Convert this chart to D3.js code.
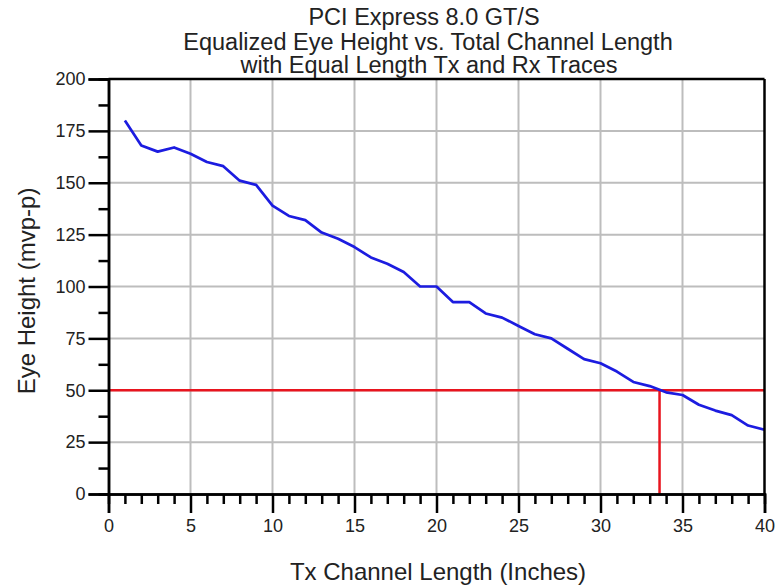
<!DOCTYPE html>
<html><head><meta charset="utf-8">
<script src="https://cdn.jsdelivr.net/npm/d3@7"></script>
<style>body{margin:0;background:#fff;} svg{display:block;}</style>
</head><body>
<svg id="chart" width="776" height="586"></svg>
<script>
const titleLines = ["PCI Express 8.0 GT/S", "Equalized Eye Height vs. Total Channel Length", "with Equal Length Tx and Rx Traces"];
const xLabel = "Tx Channel Length (Inches)";
const yLabel = "Eye Height (mvp-p)";
const lengths = [1,2,3,4,5,6,7,8,9,10,11,12,13,14,15,16,17,18,19,20,21,22,23,24,25,26,27,28,29,30,31,32,33,34,35,36,37,38,39,40];
const eyeHeight = [180,168,165,167,164,160,158,151,149,139,134,132,126,123,119,114,111,107,100,100,92.5,92.5,87,85,81,77,75,70,65,63,59,54,52,49,47.7,43,40.2,38,33,31];
const xTicksMajor = [0,5,10,15,20,25,30,35,40];
const yTicksMajor = [0,25,50,75,100,125,150,175,200];
const thresholdY = 50;
const crossingX = 33.6;

const svg = d3.select("#chart");
const font = "'Liberation Sans', Arial, sans-serif";
const x = d3.scaleLinear().domain([0,40]).range([108.5,764.5]);
const y = d3.scaleLinear().domain([0,200]).range([494,79]);

// grid
const g = svg.append("g");
g.selectAll("line.gx").data(xTicksMajor.filter(d=>d>0&&d<40)).enter().append("line")
  .attr("x1",d=>x(d)).attr("x2",d=>x(d)).attr("y1",y(0)).attr("y2",y(200))
  .attr("stroke","#bdbdbd").attr("stroke-width",2);
g.selectAll("line.gy").data(yTicksMajor.filter(d=>d>0&&d<200)).enter().append("line")
  .attr("x1",x(0)).attr("x2",x(40)).attr("y1",d=>y(d)).attr("y2",d=>y(d))
  .attr("stroke","#bdbdbd").attr("stroke-width",2);

// red threshold lines
svg.append("line").attr("x1",x(0)).attr("x2",x(40)).attr("y1",y(thresholdY)).attr("y2",y(thresholdY))
  .attr("stroke","#e8141e").attr("stroke-width",2.5);
svg.append("line").attr("x1",x(crossingX)).attr("x2",x(crossingX)).attr("y1",y(thresholdY)).attr("y2",y(0))
  .attr("stroke","#e8141e").attr("stroke-width",2.5);

// data line
const line = d3.line().x((d,i)=>x(lengths[i])).y(d=>y(d));
svg.append("path").datum(eyeHeight).attr("d",line).attr("fill","none")
  .attr("stroke","#1c1ce0").attr("stroke-width",2.7).attr("stroke-linejoin","round");

// axes
const xMinor = d3.range(0,41,1).filter(d=>d%5!==0);
const yMinor = d3.range(12.5,200,25);
const xAxis = svg.append("g").attr("transform",`translate(0,${y(0)})`)
  .call(d3.axisBottom(x).tickValues(xTicksMajor).tickSize(19).tickPadding(6).tickFormat(d3.format("d")));
const xAxisMinor = svg.append("g").attr("transform",`translate(0,${y(0)})`)
  .call(d3.axisBottom(x).tickValues(xMinor).tickSize(10).tickFormat(""));
const yAxis = svg.append("g").attr("transform",`translate(${x(0)},0)`)
  .call(d3.axisLeft(y).tickValues(yTicksMajor).tickSize(20).tickPadding(3).tickFormat(d3.format("d")));
const yAxisMinor = svg.append("g").attr("transform",`translate(${x(0)},0)`)
  .call(d3.axisLeft(y).tickValues(yMinor).tickSize(10).tickFormat(""));
[xAxis,xAxisMinor,yAxis,yAxisMinor].forEach(a=>{
  a.select(".domain").attr("stroke","#000").attr("stroke-width",2.5);
  a.selectAll(".tick line").attr("stroke","#000").attr("stroke-width",2.5);
  a.selectAll(".tick text").attr("font-family",font).attr("font-size",18).attr("fill","#222");
});
// top and right border
svg.append("line").attr("x1",x(0)).attr("x2",x(40)).attr("y1",y(200)).attr("y2",y(200)).attr("stroke","#000").attr("stroke-width",2.5);
svg.append("line").attr("x1",x(40)).attr("x2",x(40)).attr("y1",y(200)).attr("y2",y(0)).attr("stroke","#000").attr("stroke-width",2.5);

// titles
const titleY = [25, 49.5, 73];
const titleX = [424, 428, 429];
svg.append("g").selectAll("text").data(titleLines).enter().append("text")
  .attr("x",(d,i)=>titleX[i]).attr("y",(d,i)=>titleY[i]).attr("text-anchor","middle")
  .attr("font-family",font).attr("font-size",23.5).attr("fill","#222").text(d=>d);
svg.append("text").attr("x",438).attr("y",580).attr("text-anchor","middle")
  .attr("font-family",font).attr("font-size",24).attr("fill","#222").text(xLabel);
svg.append("text").attr("transform",`translate(35,291) rotate(-90)`).attr("text-anchor","middle")
  .attr("font-family",font).attr("font-size",24).attr("fill","#222").text(yLabel);
</script>
</body></html>
